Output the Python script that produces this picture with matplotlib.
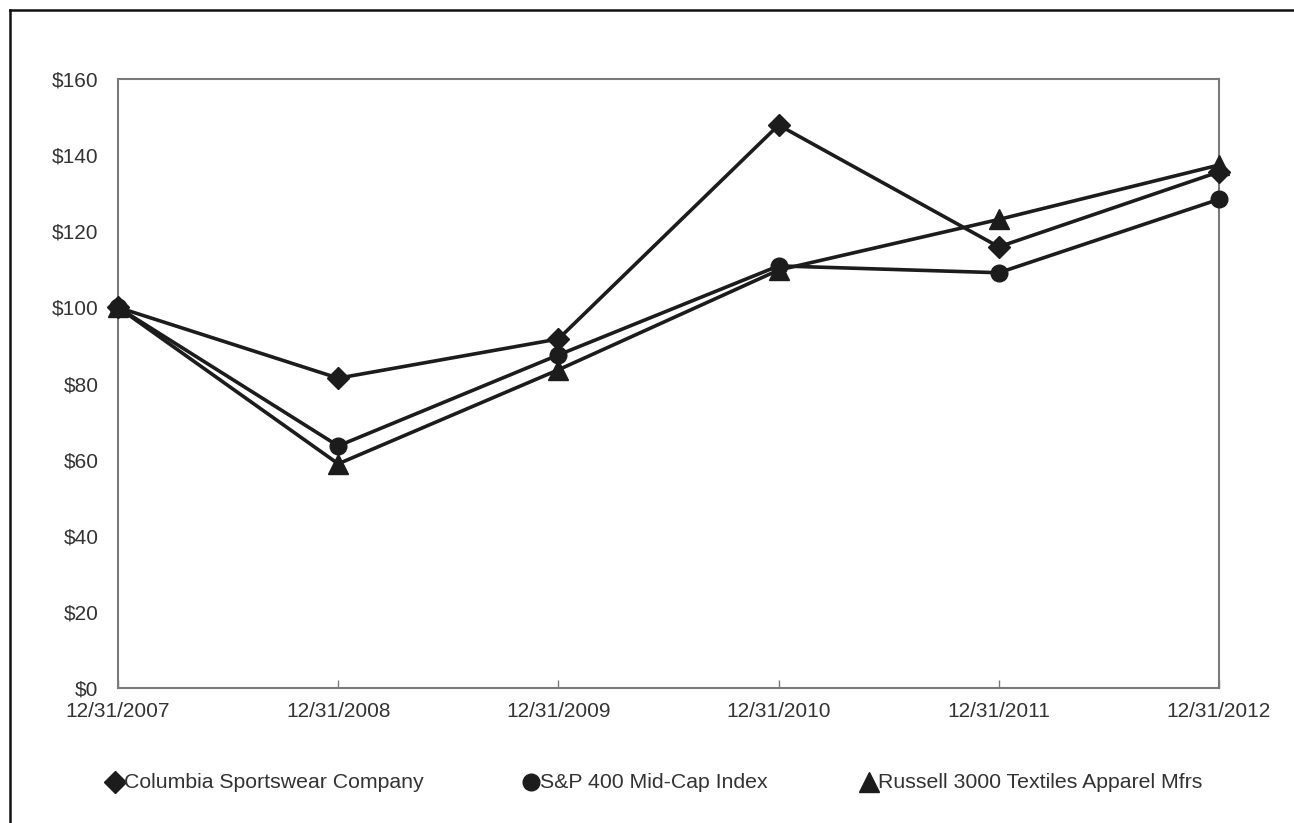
import matplotlib
matplotlib.use("Agg")
import matplotlib.pyplot as plt
from matplotlib.lines import Line2D

plt.rcParams['font.family'] = ['Liberation Sans', 'DejaVu Sans']

dates = ["12/31/2007", "12/31/2008", "12/31/2009", "12/31/2010", "12/31/2011", "12/31/2012"]
columbia = [100.0, 81.4, 91.7, 147.9, 115.9, 135.6]
sp400 = [100.0, 63.6, 87.5, 110.9, 109.1, 128.4]
russell = [100.0, 58.9, 83.6, 109.8, 123.1, 137.4]
series_names = ["Columbia Sportswear Company", "S&P 400 Mid-Cap Index",
                "Russell 3000 Textiles Apparel Mfrs"]
y_ticks = [0, 20, 40, 60, 80, 100, 120, 140, 160]

line_col = "#1c1c1c"
text_col = "#333333"
axis_col = "#7a7a7a"

fig = plt.figure(figsize=(12.94, 8.23), dpi=100)
ax = fig.add_axes([118 / 1294, 1 - 688 / 823, (1219 - 118) / 1294, (688 - 79) / 823])

x = list(range(len(dates)))
styles = [("D", 11), ("o", 12), ("^", 14)]
for vals, (mk, ms) in zip([columbia, sp400, russell], styles):
    ax.plot(x, vals, color=line_col, lw=2.6, marker=mk, markersize=ms,
            markerfacecolor=line_col, markeredgecolor=line_col, clip_on=False, zorder=3)

ax.set_xlim(0, len(dates) - 1)
ax.set_ylim(0, 160)
ax.set_xticks(x)
ax.set_xticklabels(dates)
ax.set_yticks(y_ticks)
ax.set_yticklabels([f"${v}" for v in y_ticks])
ax.tick_params(axis="x", direction="in", length=6, width=1, color=axis_col,
               labelsize=15, labelcolor=text_col, pad=10)
ax.tick_params(axis="y", length=0, labelsize=15, labelcolor=text_col, pad=14)
for sp in ax.spines.values():
    sp.set_color(axis_col)
    sp.set_linewidth(1.5)

# frame lines along the top and left edges of the figure
fig.add_artist(Line2D([10 / 1294, 1.0], [1 - 9.5 / 823, 1 - 9.5 / 823],
                      transform=fig.transFigure, color="#111111", lw=1.8))
fig.add_artist(Line2D([10 / 1294, 10 / 1294], [0.0, 1 - 9.5 / 823],
                      transform=fig.transFigure, color="#111111", lw=1.8))

# legend row
legend_y = 1 - 782 / 823
legend_x = [115, 531, 869]
for px, name, (mk, ms) in zip(legend_x, series_names, styles):
    fig.add_artist(Line2D([px / 1294], [legend_y], transform=fig.transFigure,
                          marker=mk, markersize=ms, color=line_col, lw=0))
    fig.text((px + 9) / 1294, legend_y, name, ha="left", va="center",
             fontsize=15.3, color=text_col)

fig.savefig("out.png", dpi=100)
